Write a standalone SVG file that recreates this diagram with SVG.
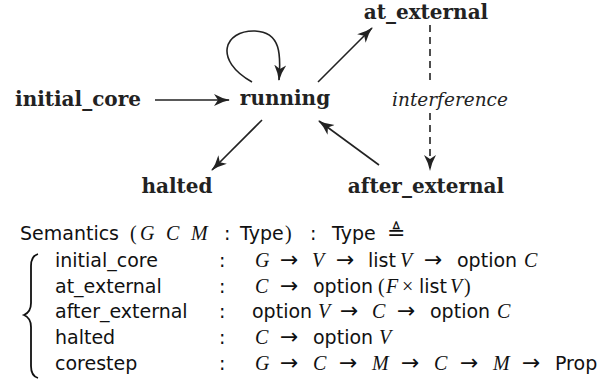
<svg xmlns="http://www.w3.org/2000/svg" width="613" height="383" viewBox="0 0 613 383">
<style>
.node{font-family:"DejaVu Serif","Liberation Serif",serif;font-weight:bold;font-size:20px;fill:#222;text-anchor:middle}
.lbl{font-family:"DejaVu Serif","Liberation Serif",serif;font-style:italic;font-size:18.5px;fill:#222;text-anchor:middle}
.edge{stroke:#222;stroke-width:1.6;fill:none}
.dash{stroke-dasharray:7 5}
.sf{font-family:"DejaVu Sans","Liberation Sans",sans-serif;font-size:19px;fill:#111}
.mi{font-family:"Liberation Serif",serif;font-style:italic;font-size:20px}
.mr{font-family:"Liberation Serif","DejaVu Serif",serif;font-size:20px}
.ar{font-family:"DejaVu Sans",sans-serif;font-size:22px}
.brace{stroke:#111;stroke-width:1.8;fill:none}
</style>
<defs>
<marker id="ah" viewBox="0 0 16 13" refX="15" refY="6.5" markerWidth="16" markerHeight="13" markerUnits="userSpaceOnUse" orient="auto">
<path d="M0,0.5 Q8,5 16,6.5 Q8,8 0,12.5 L4,6.5 Z" fill="#222"/>
</marker>
</defs>
<g id="connectors">
<line class="edge" x1="155" y1="100" x2="229" y2="100" marker-end="url(#ah)"/>
<path class="edge" d="M252,82 C213,60 224,30 255,31 C281,32 281,55 279,80" marker-end="url(#ah)"/>
<line class="edge" x1="318" y1="82" x2="372" y2="28" marker-end="url(#ah)"/>
<line class="edge" x1="262" y1="120" x2="212" y2="170" marker-end="url(#ah)"/>
<line class="edge" x1="379" y1="165" x2="319" y2="121" marker-end="url(#ah)"/>
<line class="edge dash" x1="430" y1="25" x2="430" y2="84"/>
<line class="edge dash" x1="430" y1="113" x2="430" y2="170" marker-end="url(#ah)"/>
</g>
<g id="initial_core"><text class="node" x="78" y="106">initial_core</text></g>
<g id="running"><text class="node" x="285" y="105">running</text></g>
<g id="at_external"><text class="node" x="426" y="18.5">at_external</text></g>
<g id="halted"><text class="node" x="177" y="193">halted</text></g>
<g id="after_external"><text class="node" x="426" y="193">after_external</text></g>
<g id="interference"><text class="lbl" x="450" y="106">interference</text></g>
<g id="semantics">
<text class="sf" y="240"><tspan x="20">Semantics</tspan><tspan class="mr" x="130">(</tspan><tspan class="mi" x="140">G</tspan><tspan class="mi" x="166">C</tspan><tspan class="mi" x="191">M</tspan><tspan x="224">:</tspan><tspan x="240">Type</tspan><tspan class="mr" x="285">)</tspan><tspan x="310">:</tspan><tspan x="332">Type</tspan><tspan x="387" style="font-size:22px">≜</tspan></text>
<path class="brace" d="M38,254 Q31,256 31,266 L31,303 Q31,312 24,315 Q31,318 31,327 L31,366 Q31,376 38,378"/>
<text class="sf" y="267"><tspan x="55">initial_core</tspan><tspan x="219">:</tspan><tspan class="mi" x="255">G</tspan><tspan class="ar" x="280">→</tspan><tspan class="mi" x="312">V</tspan><tspan class="ar" x="336">→</tspan><tspan x="368">list</tspan><tspan class="mi" x="400">V</tspan><tspan class="ar" x="424">→</tspan><tspan x="457">option</tspan><tspan class="mi" x="524">C</tspan></text>
<text class="sf" y="293"><tspan x="55">at_external</tspan><tspan x="219">:</tspan><tspan class="mi" x="255">C</tspan><tspan class="ar" x="280">→</tspan><tspan x="313">option</tspan><tspan class="mr" x="378">(</tspan><tspan class="mi" x="386">F</tspan><tspan class="mr" x="402">×</tspan><tspan x="419">list</tspan><tspan class="mi" x="450">V</tspan><tspan class="mr" x="464">)</tspan></text>
<text class="sf" y="318"><tspan x="55">after_external</tspan><tspan x="219">:</tspan><tspan x="252">option</tspan><tspan class="mi" x="318">V</tspan><tspan class="ar" x="340">→</tspan><tspan class="mi" x="372">C</tspan><tspan class="ar" x="397">→</tspan><tspan x="430">option</tspan><tspan class="mi" x="497">C</tspan></text>
<text class="sf" y="344"><tspan x="55">halted</tspan><tspan x="219">:</tspan><tspan class="mi" x="255">C</tspan><tspan class="ar" x="280">→</tspan><tspan x="313">option</tspan><tspan class="mi" x="379">V</tspan></text>
<text class="sf" y="370"><tspan x="55">corestep</tspan><tspan x="219">:</tspan><tspan class="mi" x="255">G</tspan><tspan class="ar" x="280">→</tspan><tspan class="mi" x="313">C</tspan><tspan class="ar" x="339">→</tspan><tspan class="mi" x="372">M</tspan><tspan class="ar" x="401">→</tspan><tspan class="mi" x="434">C</tspan><tspan class="ar" x="460">→</tspan><tspan class="mi" x="493">M</tspan><tspan class="ar" x="522">→</tspan><tspan x="555">Prop</tspan></text>
</g>
</svg>
